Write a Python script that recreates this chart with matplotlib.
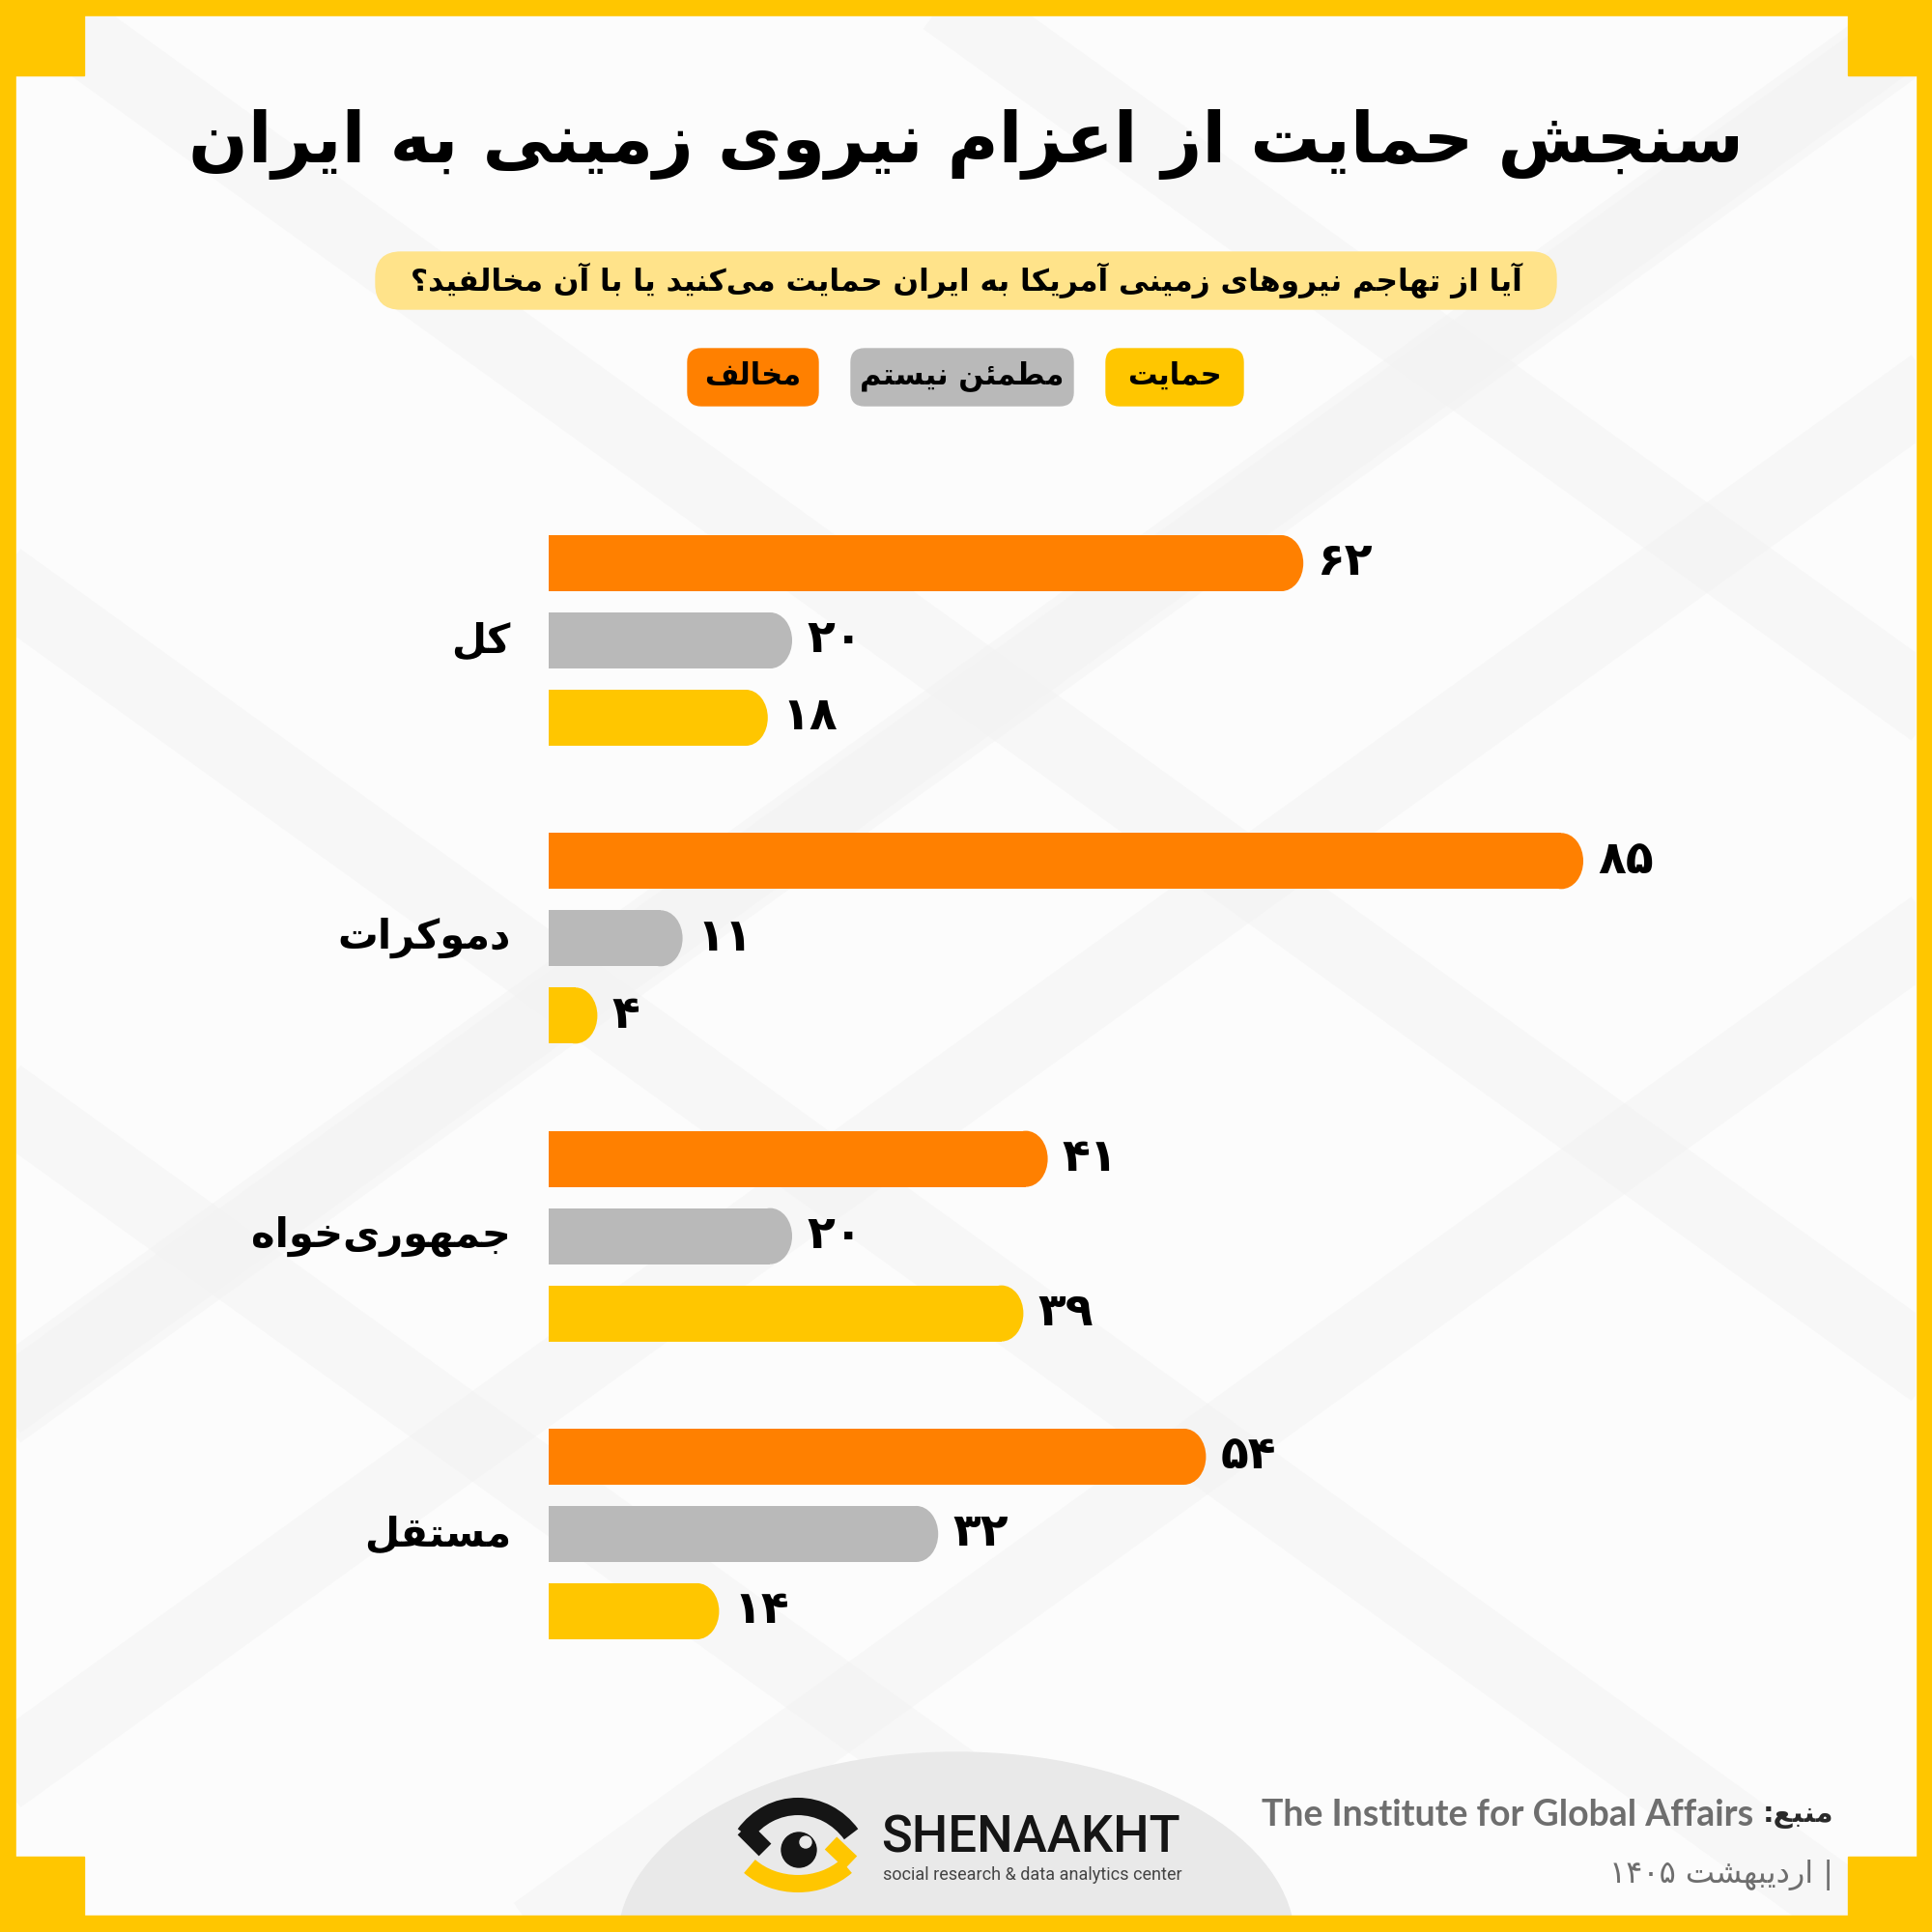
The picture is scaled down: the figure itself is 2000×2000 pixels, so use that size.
import re
import numpy as np
import matplotlib
matplotlib.use('Agg')
import matplotlib.pyplot as plt
from matplotlib.patches import Rectangle, Ellipse, FancyBboxPatch, Arc, Circle

# Data
categories = ['کل', 'دموکرات', 'جمهوری‌خواه', 'مستقل']
series_names = ['مخالف', 'مطمئن نیستم', 'حمایت']
opposed = [62, 85, 41, 54]
unsure = [20, 11, 20, 32]
support = [18, 4, 39, 14]

title = 'سنجش حمایت از اعزام نیروی زمینی به ایران'
subtitle = 'آیا از تهاجم نیروهای زمینی آمریکا به ایران حمایت می‌کنید یا با آن مخالفید؟'
source_label = 'منبع:'
source_name = 'The Institute for Global Affairs'
date_label = '| اردیبهشت ۱۴۰۵'

ORANGE = '#FF8000'
GRAY = '#B9B9B9'
YELLOW = '#FFC600'
colors = [ORANGE, GRAY, YELLOW]

# Arabic/Persian presentation forms: isolated, final, initial, medial
FORMS = {
    '\u0627': ('\uFE8D', '\uFE8E', None, None),
    '\u0622': ('\uFE81', '\uFE82', None, None),
    '\u0628': ('\uFE8F', '\uFE90', '\uFE91', '\uFE92'),
    '\u067E': ('\uFB56', '\uFB57', '\uFB58', '\uFB59'),
    '\u062A': ('\uFE95', '\uFE96', '\uFE97', '\uFE98'),
    '\u062B': ('\uFE99', '\uFE9A', '\uFE9B', '\uFE9C'),
    '\u062C': ('\uFE9D', '\uFE9E', '\uFE9F', '\uFEA0'),
    '\u0686': ('\uFB7A', '\uFB7B', '\uFB7C', '\uFB7D'),
    '\u062D': ('\uFEA1', '\uFEA2', '\uFEA3', '\uFEA4'),
    '\u062E': ('\uFEA5', '\uFEA6', '\uFEA7', '\uFEA8'),
    '\u062F': ('\uFEA9', '\uFEAA', None, None),
    '\u0630': ('\uFEAB', '\uFEAC', None, None),
    '\u0631': ('\uFEAD', '\uFEAE', None, None),
    '\u0632': ('\uFEAF', '\uFEB0', None, None),
    '\u0698': ('\uFB8A', '\uFB8B', None, None),
    '\u0633': ('\uFEB1', '\uFEB2', '\uFEB3', '\uFEB4'),
    '\u0634': ('\uFEB5', '\uFEB6', '\uFEB7', '\uFEB8'),
    '\u0635': ('\uFEB9', '\uFEBA', '\uFEBB', '\uFEBC'),
    '\u0636': ('\uFEBD', '\uFEBE', '\uFEBF', '\uFEC0'),
    '\u0637': ('\uFEC1', '\uFEC2', '\uFEC3', '\uFEC4'),
    '\u0638': ('\uFEC5', '\uFEC6', '\uFEC7', '\uFEC8'),
    '\u0639': ('\uFEC9', '\uFECA', '\uFECB', '\uFECC'),
    '\u063A': ('\uFECD', '\uFECE', '\uFECF', '\uFED0'),
    '\u0641': ('\uFED1', '\uFED2', '\uFED3', '\uFED4'),
    '\u0642': ('\uFED5', '\uFED6', '\uFED7', '\uFED8'),
    '\u06A9': ('\uFB8E', '\uFB8F', '\uFB90', '\uFB91'),
    '\u06AF': ('\uFB92', '\uFB93', '\uFB94', '\uFB95'),
    '\u0644': ('\uFEDD', '\uFEDE', '\uFEDF', '\uFEE0'),
    '\u0645': ('\uFEE1', '\uFEE2', '\uFEE3', '\uFEE4'),
    '\u0646': ('\uFEE5', '\uFEE6', '\uFEE7', '\uFEE8'),
    '\u0648': ('\uFEED', '\uFEEE', None, None),
    '\u0647': ('\uFEE9', '\uFEEA', '\uFEEB', '\uFEEC'),
    '\u06CC': ('\uFBFC', '\uFBFD', '\uFBFE', '\uFBFF'),
    '\u0626': ('\uFE89', '\uFE8A', '\uFE8B', '\uFE8C'),
}


def fa(text):
    """Shape Persian text and put it in visual (left-to-right) order."""
    out = []
    for i, c in enumerate(text):
        if c not in FORMS:
            out.append(c)
            continue
        prev = text[i - 1] if i > 0 else None
        nxt = text[i + 1] if i + 1 < len(text) else None
        join_prev = prev in FORMS and FORMS[prev][2] is not None
        join_next = nxt in FORMS and FORMS[c][2] is not None
        iso, fin, ini, med = FORMS[c]
        if join_prev and join_next:
            out.append(med)
        elif join_prev:
            out.append(fin)
        elif join_next:
            out.append(ini)
        else:
            out.append(iso)
    s = ''.join(ch for ch in out if ch != '\u200c')
    runs = re.split(r'([0-9\u06F0-\u06F9]+)', s)
    runs = [r if re.fullmatch(r'[0-9\u06F0-\u06F9]+', r) else r[::-1] for r in runs if r]
    return ''.join(runs[::-1])


def fa_num(n):
    return ''.join(chr(0x06F0 + int(d)) for d in str(n))


plt.rcParams['font.family'] = ['DejaVu Sans']

fig = plt.figure(figsize=(20, 20), dpi=100)

# Background canvas in pixel coordinates
bg = fig.add_axes([0, 0, 1, 1])
bg.set_xlim(0, 2000)
bg.set_ylim(2000, 0)
bg.axis('off')

bg.add_patch(Rectangle((0, 0), 2000, 2000, color=YELLOW, zorder=0))
panel = Rectangle((17, 17), 1966, 1966, color='#FCFCFC', zorder=0.1)
bg.add_patch(panel)
for (x, y) in [(0, 0), (1913, 0), (0, 1922), (1913, 1922)]:
    bg.add_patch(Rectangle((x, y), 87, 78, color=YELLOW, zorder=0.5))

# faint crossing bands in the background
for (cx, cy) in [(1767, 567), (220, 1293), (1030, 720), (1250, 1500)]:
    for slope in (0.72, -0.72):
        xs = np.array([cx - 2500, cx + 2500])
        line, = bg.plot(xs, cy + slope * (xs - cx), color='#F3F3F3', lw=55,
                        solid_capstyle='butt', zorder=0.2, alpha=0.55)
        line.set_clip_path(panel)

# bottom dome
bg.add_patch(Ellipse((990, 2010), 700, 392, color='#E9E9E9', zorder=0.3))
bg.add_patch(Rectangle((0, 1983), 2000, 17, color=YELLOW, zorder=0.6))

# Title and question
bg.text(1000, 150, fa(title), ha='center', va='center', fontsize=52,
        fontweight='bold', color='black', zorder=3)
bg.add_patch(FancyBboxPatch((389, 261), 1222, 59,
                            boxstyle='round,pad=0,rounding_size=26',
                            color='#FFE38A', zorder=2))
bg.text(1000, 290, fa(subtitle), ha='center', va='center', fontsize=22.5,
        fontweight='bold', color='black', zorder=3)

# Legend pills
legend_boxes = [(712, 135), (881, 230), (1145, 142)]
for name, col, (lx, lw) in zip(series_names, colors, legend_boxes):
    bg.add_patch(FancyBboxPatch((lx, 361), lw, 59,
                                boxstyle='round,pad=0,rounding_size=14',
                                color=col, zorder=2))
    bg.text(lx + lw / 2, 389, fa(name), ha='center', va='center',
            fontsize=22, fontweight='bold', color='black', zorder=3)

# Bars
ax = fig.add_axes([568 / 2000, 1 - 1750 / 2000, 1260 / 2000, 1250 / 2000])
ax.set_xlim(0, 100)
ax.set_ylim((1750 - 583) / 80, -(583 - 500) / 80)
ax.axis('off')
ax.patch.set_alpha(0)

group_gap = 3.854
bar_h = 0.725
cap = 1.8
values = [opposed, unsure, support]
for i, cat in enumerate(categories):
    for j, (vals, col) in enumerate(zip(values, colors)):
        y = i * group_gap + j
        v = vals[i]
        ax.barh(y, v - cap, height=bar_h, left=0, color=col, lw=0)
        ax.add_patch(Ellipse((v - cap, y), 2 * cap, bar_h, color=col, lw=0))
        ax.text(v + 1.2, y, fa_num(v), ha='left', va='center', fontsize=34,
                fontweight='bold', color='black')
    ax.text(-3.1, i * group_gap + 1, fa(cat), ha='right', va='center',
            fontsize=30, fontweight='bold', color='black')

# Footer: source
bg.text(1898, 1879, fa(source_label), ha='right', va='center', fontsize=21,
        fontweight='bold', color='#2A2A2A', zorder=3)
bg.text(1815, 1879, source_name, ha='right', va='center', fontsize=27,
        fontweight='bold', color='#6E6E6E', family='Lato', zorder=3)
bg.text(1898, 1941, fa(date_label), ha='right', va='center', fontsize=23,
        color='#6E6E6E', zorder=3)

# Logo
bg.add_patch(Arc((826, 1945), 140, 150, theta1=220, theta2=320, lw=13,
                 color='#151515', zorder=3))
bg.plot([770, 792], [1893, 1915], color='#151515', lw=13, solid_capstyle='butt', zorder=3)
bg.add_patch(Arc((826, 1890), 140, 120, theta1=40, theta2=140, lw=13,
                 color=YELLOW, zorder=3))
bg.plot([881, 860], [1928, 1908], color=YELLOW, lw=13, solid_capstyle='butt', zorder=3)
bg.add_patch(Circle((827, 1915), 18, color='#151515', zorder=4))
bg.add_patch(Circle((834, 1907), 6, color='#E9E9E9', zorder=5))
bg.text(912, 1903, 'SHENAAKHT', ha='left', va='center', fontsize=38,
        family='Roboto', fontweight='medium', color='#151515', zorder=3)
bg.text(914, 1941, 'social research & data analytics center', ha='left',
        va='center', fontsize=13, family='Roboto', color='#444444', zorder=3)

fig.savefig('out.png', dpi=100)
